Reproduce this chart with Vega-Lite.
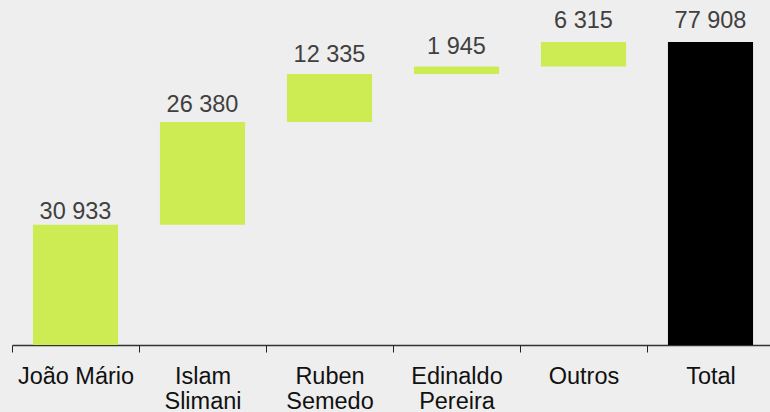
{
  "$schema": "https://vega.github.io/schema/vega-lite/v6.json",
  "width": 758,
  "height": 345,
  "autosize": {"type": "none"},
  "padding": {"left": 12, "top": 0, "right": 0, "bottom": 67},
  "background": "#eeeeee",
  "config": {"view": {"stroke": null}, "font": "Liberation Sans"},
  "data": {
    "values": [
      {"name": "João Mário", "start": 0, "end": 30933, "label": "30 933", "kind": "step"},
      {"name": "Islam Slimani", "start": 30933, "end": 57313, "label": "26 380", "kind": "step"},
      {"name": "Ruben Semedo", "start": 57313, "end": 69648, "label": "12 335", "kind": "step"},
      {"name": "Edinaldo Pereira", "start": 69648, "end": 71593, "label": "1 945", "kind": "step"},
      {"name": "Outros", "start": 71593, "end": 77908, "label": "6 315", "kind": "step"},
      {"name": "Total", "start": 0, "end": 77908, "label": "77 908", "kind": "total"}
    ]
  },
  "encoding": {
    "x": {
      "field": "name",
      "type": "nominal",
      "sort": null,
      "scale": {"range": [0, 762], "paddingInner": 0, "paddingOuter": 0},
      "axis": {
        "title": null,
        "labelAngle": 0,
        "labelFontSize": 23.5,
        "labelColor": "#111111",
        "labelPadding": 12,
        "labelLineHeight": 25,
        "labelExpr": "datum.label == 'João Mário' ? datum.label : split(datum.label, ' ')",
        "tickBand": "extent",
        "tickSize": 7,
        "tickColor": "#222222",
        "domainColor": "#333333",
        "domainWidth": 1.5,
        "labelBound": false,
        "labelOverlap": false
      }
    }
  },
  "layer": [
    {
      "mark": {"type": "bar", "width": {"band": 0.67}},
      "encoding": {
        "y": {"field": "start", "type": "quantitative", "scale": {"domain": [0, 88707], "nice": false, "zero": true}, "axis": null},
        "y2": {"field": "end"},
        "color": {"field": "kind", "type": "nominal", "scale": {"domain": ["step", "total"], "range": ["#cdeb52", "#000000"]}, "legend": null}
      }
    },
    {
      "mark": {"type": "text", "baseline": "alphabetic", "fontSize": 23.5, "color": "#404040"},
      "encoding": {
        "y": {"field": "end", "type": "quantitative", "scale": {"domain": [0, 84800], "nice": false, "zero": true}, "axis": null},
        "text": {"field": "label"}
      }
    }
  ],
  "resolve": {"scale": {"y": "independent"}}
}
